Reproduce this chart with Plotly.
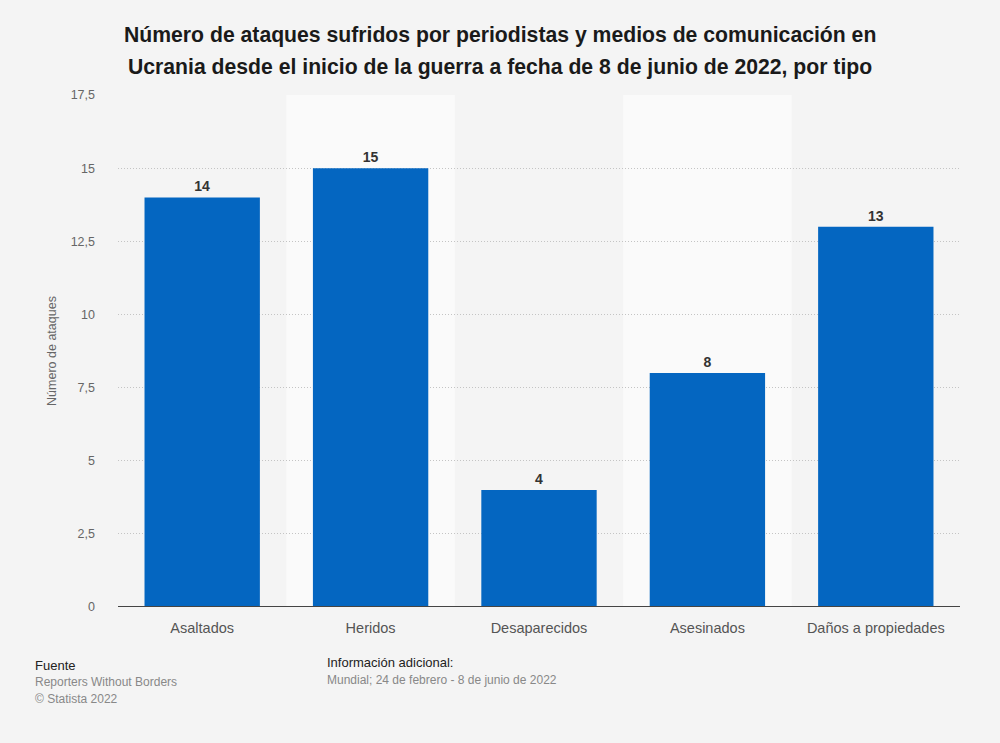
import plotly.graph_objects as go

categories = ["Asaltados", "Heridos", "Desaparecidos", "Asesinados", "Daños a propiedades"]
values = [14, 15, 4, 8, 13]
y_ticks = [0, 2.5, 5, 7.5, 10, 12.5, 15, 17.5]
y_tick_labels = ["0", "2,5", "5", "7,5", "10", "12,5", "15", "17,5"]

title_lines = ["Número de ataques sufridos por periodistas y medios de comunicación en",
               "Ucrania desde el inicio de la guerra a fecha de 8 de junio de 2022, por tipo"]

W, H = 1000, 743
ML, MR, MT, MB = 118, 40, 95, 136

fig = go.Figure()
fig.add_trace(go.Bar(
    x=categories, y=values,
    marker=dict(color="#0466c1", line=dict(width=0)),
    width=0.685,
    text=[str(v) for v in values], textposition="outside",
    textfont=dict(family="Liberation Sans, Arial", size=14, color="#333333"),
    texttemplate="<b>%{text}</b>",
    cliponaxis=False,
    hoverinfo="skip",
))

shapes = []
for i, c in enumerate(categories):
    if i % 2 == 1:
        shapes.append(dict(type="rect", xref="x", yref="paper", x0=i - 0.5, x1=i + 0.5,
                           y0=0, y1=1, fillcolor="#fafafa", line=dict(width=0), layer="below"))
shapes.append(dict(type="line", xref="paper", yref="y", x0=0, x1=1, y0=0, y1=0,
                   line=dict(color="#444444", width=2)))

fig.update_layout(
    width=W, height=H,
    paper_bgcolor="#f4f4f4", plot_bgcolor="#f4f4f4",
    margin=dict(l=ML, r=MR, t=MT, b=MB),
    font=dict(family="Liberation Sans, Arial", color="#666666"),
    showlegend=False,
    shapes=shapes,
    xaxis=dict(range=[-0.5, 4.5], showgrid=False, zeroline=False, showline=False,
               tickfont=dict(size=14.5, color="#555555"), ticks="", ticklabelstandoff=10),
    yaxis=dict(range=[0, 17.5], tickvals=y_ticks, ticktext=y_tick_labels,
               showgrid=True, gridcolor="#c4c4c4", griddash="1px,2px", gridwidth=1,
               zeroline=False, showline=False,
               tickfont=dict(size=12.5, color="#666666"), ticks="", ticklabelstandoff=22,
               title=dict(text="Número de ataques", font=dict(size=12.5, color="#666666"), standoff=11)),
)

def px_to_paper(x, y):
    return (x - ML) / (W - ML - MR), (H - MB - y) / (H - MT - MB)

for i, line in enumerate(title_lines):
    px, py = px_to_paper(500, 35 + 32 * i)
    fig.add_annotation(text="<b>" + line + "</b>", xref="paper", yref="paper", x=px, y=py,
                       xanchor="center", yanchor="middle", showarrow=False,
                       font=dict(family="Liberation Sans, Arial", size=21.2, color="#1a1a1a"))

annotations = [
    dict(text="Fuente", x=33, y=665, font=dict(size=13, color="#222222")),
    dict(text="Reporters Without Borders", x=33, y=682, font=dict(size=12, color="#888888")),
    dict(text="© Statista 2022", x=33, y=699, font=dict(size=12, color="#888888")),
    dict(text="Información adicional:", x=325, y=662, font=dict(size=13, color="#222222")),
    dict(text="Mundial; 24 de febrero - 8 de junio de 2022", x=325, y=680, font=dict(size=12, color="#888888")),
]
for a in annotations:
    px, py = px_to_paper(a["x"], a["y"])
    fig.add_annotation(text=a["text"], xref="paper", yref="paper", x=px, y=py,
                       xanchor="left", yanchor="middle", showarrow=False,
                       font=dict(family="Liberation Sans, Arial", **a["font"]))

fig.write_html("out.html", config={"displayModeBar": False},
               post_script="document.body.style.margin='0';document.body.style.padding='0';")
